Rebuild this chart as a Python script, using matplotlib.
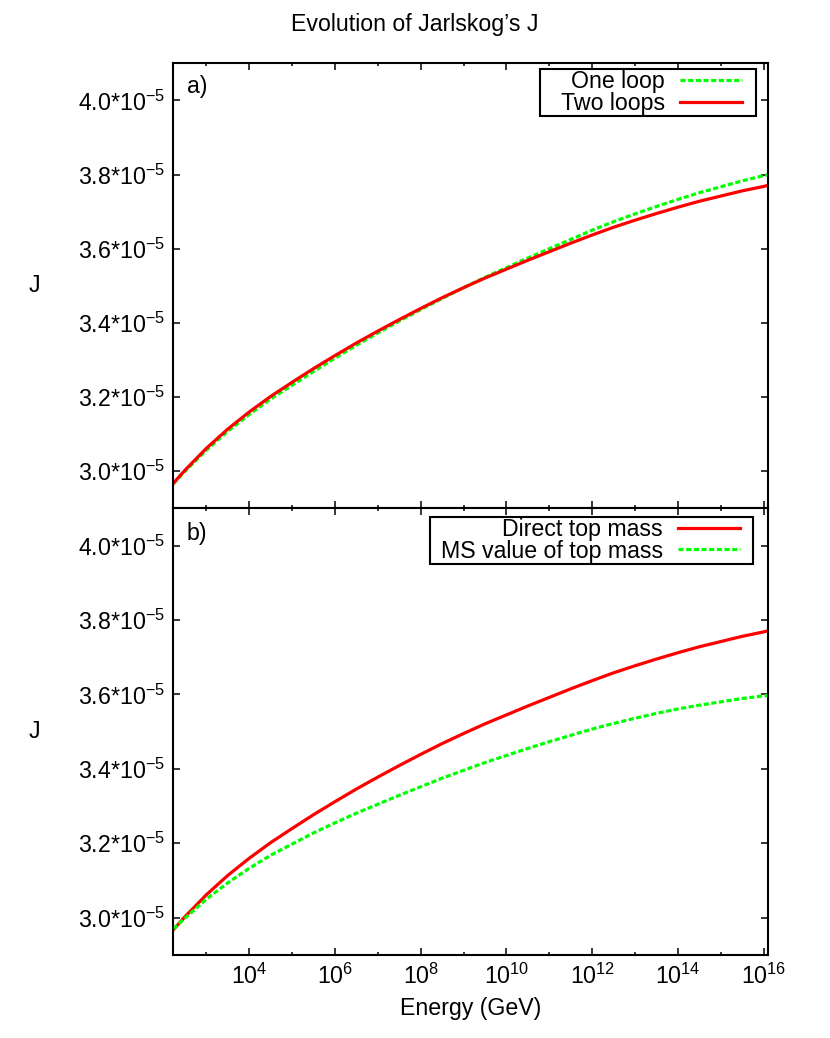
import numpy as np
import matplotlib
matplotlib.use('Agg')
import matplotlib.pyplot as plt
from matplotlib.ticker import FixedLocator, FuncFormatter, NullFormatter
from matplotlib.offsetbox import DrawingArea

plt.rcParams['font.family'] = ['Liberation Sans', 'DejaVu Sans']
plt.rcParams['mathtext.fontset'] = 'custom'
plt.rcParams['mathtext.rm'] = 'Liberation Sans'
plt.rcParams['mathtext.it'] = 'Liberation Sans:italic'
plt.rcParams['font.size'] = 16.7

# log10 of the energy (GeV), from the top mass up to ~1e16
log_energy = np.array([2.23, 2.5, 3, 3.5, 4, 4.5, 5, 5.5, 6, 6.5, 7, 7.5, 8, 8.5, 9, 9.5,
                       10, 10.5, 11, 11.5, 12, 12.5, 13, 13.5, 14, 14.5, 15, 15.5, 16, 16.11])
energy = 10 ** log_energy

# J in units of 1e-5
j_one_loop = np.array([2.966, 3.000, 3.057, 3.108, 3.153, 3.195, 3.232, 3.269, 3.305, 3.340,
                       3.373, 3.405, 3.436, 3.466, 3.495, 3.523, 3.549, 3.575, 3.600, 3.625,
                       3.650, 3.673, 3.694, 3.714, 3.733, 3.751, 3.767, 3.783, 3.797, 3.800])
j_two_loops = np.array([2.968, 3.003, 3.062, 3.114, 3.160, 3.202, 3.240, 3.277, 3.312, 3.346,
                        3.378, 3.409, 3.439, 3.468, 3.495, 3.521, 3.545, 3.569, 3.592, 3.615,
                        3.637, 3.658, 3.677, 3.695, 3.712, 3.728, 3.742, 3.756, 3.768, 3.771])
j_ms_top = np.array([2.970, 2.999, 3.050, 3.094, 3.133, 3.168, 3.198, 3.228, 3.255, 3.281,
                     3.305, 3.329, 3.352, 3.375, 3.396, 3.417, 3.436, 3.455, 3.473, 3.490,
                     3.507, 3.522, 3.536, 3.549, 3.561, 3.571, 3.580, 3.589, 3.596, 3.597])

scale = 1e-5
major_x = [1e4, 1e6, 1e8, 1e10, 1e12, 1e14, 1e16]
minor_x = [1e3, 1e5, 1e7, 1e9, 1e11, 1e13, 1e15]
y_ticks = [3.0e-5, 3.2e-5, 3.4e-5, 3.6e-5, 3.8e-5, 4.0e-5]

red = '#ff0000'
green = '#00ff00'
dots = (0, (1.6, 0.8))

fig = plt.figure(figsize=(8.3, 10.38), dpi=100)
ax1 = fig.add_axes([0.209, 0.5103, 0.7167, 0.4287])
ax2 = fig.add_axes([0.209, 0.0800, 0.7167, 0.4303])

ax1.plot(energy, j_one_loop * scale, color=green, lw=2.3, ls=dots, label='One loop')
ax1.plot(energy, j_two_loops * scale, color=red, lw=2.3, label='Two loops')

ax2.plot(energy, j_two_loops * scale, color=red, lw=2.3, label='Direct top mass')
ax2.plot(energy, j_ms_top * scale, color=green, lw=2.3, ls=dots, label='MS value of top mass')


def ylab(v, pos):
    return r'$\mathregular{%.1f{*}10^{-5}}$' % (v / scale)


def xlab(v, pos):
    return r'$\mathregular{10^{%d}}$' % round(np.log10(v))


for ax in (ax1, ax2):
    ax.set_xscale('log')
    ax.set_xlim(10 ** 2.23, 10 ** 16.11)
    ax.set_ylim(2.9e-5, 4.1e-5)
    ax.xaxis.set_major_locator(FixedLocator(major_x))
    ax.xaxis.set_minor_locator(FixedLocator(minor_x))
    ax.xaxis.set_minor_formatter(NullFormatter())
    ax.xaxis.set_major_formatter(FuncFormatter(xlab))
    ax.yaxis.set_major_locator(FixedLocator(y_ticks))
    ax.yaxis.set_major_formatter(FuncFormatter(ylab))
    ax.tick_params(which='both', direction='in', top=True, right=True, width=1.1)
    ax.tick_params(which='major', length=5, pad=6)
    ax.tick_params(which='minor', length=2.5)
    for sp in ax.spines.values():
        sp.set_linewidth(1.5)
    ax.set_ylabel('J', rotation=0, va='center', ha='center')
    ax.yaxis.set_label_coords(-0.233, 0.5)

ax1.tick_params(labelbottom=False)

ax1.text(0.022, 0.974, 'a)', transform=ax1.transAxes, ha='left', va='top')
ax2.text(0.022, 0.969, 'b)', transform=ax2.transAxes, ha='left', va='top')

leg_kw = dict(loc='upper right', borderaxespad=0, markerfirst=False, fancybox=False,
              edgecolor='black', framealpha=1, handlelength=2.67, handletextpad=0.65,
              borderpad=0.05, labelspacing=-0.06, columnspacing=0.0)
leg1 = ax1.legend(bbox_to_anchor=(0.979, 0.987), **leg_kw)
leg2 = ax2.legend(bbox_to_anchor=(0.975, 0.981), **leg_kw)
# gnuplot-like padding: wider on the left than on the right
for leg, left_pad in ((leg1, 14), (leg2, 7)):
    leg.get_frame().set_linewidth(1.5)
    box = leg._legend_handle_box
    box._children.insert(0, DrawingArea(left_pad, 1))
    box._children.append(DrawingArea(9, 1))

ax2.set_xlabel('Energy (GeV)', labelpad=6)

fig.text(0.5, 1 - 25 / 1038, 'Evolution of Jarlskog\u2019s J', ha='center', va='center')

fig.savefig('out.png', dpi=100)
